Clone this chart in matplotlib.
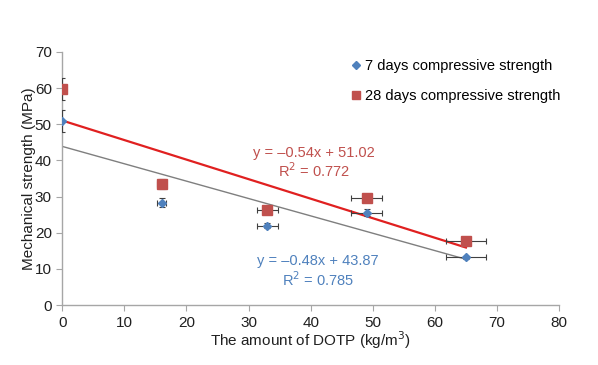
import matplotlib
matplotlib.use('Agg')
import matplotlib.pyplot as plt
import numpy as np

plt.rcParams['font.family'] = ['Liberation Sans', 'DejaVu Sans']

# DOTP amount (kg/m3)
dotp = [0, 16, 33, 49, 65]
dotp_err = [0.0, 0.7, 1.7, 2.5, 3.2]

# compressive strength (MPa)
s7 = [50.8, 28.3, 22.0, 25.5, 13.2]
s7_err = [3.0, 1.3, 0.8, 1.0, 0.5]
s28 = [59.8, 33.5, 26.3, 29.5, 17.8]
s28_err = [3.0, 1.3, 1.0, 1.0, 0.5]

# linear trendlines (slope, intercept)
fit7 = (-0.48, 43.87)
fit28 = (-0.54, 51.02)
fit_x_end = 65

blue = '#4f81bd'
red = '#c0504d'
gray_axis = '#a6a6a6'

fig = plt.figure(figsize=(5.98, 3.65), dpi=100)
ax = fig.add_axes([0.104, 0.164, 0.831, 0.694])

xs = np.array([0, fit_x_end])
ax.plot(xs, fit7[1] + fit7[0] * xs, color='#7f7f7f', lw=1.0, zorder=2)
ax.plot(xs, fit28[1] + fit28[0] * xs, color='#e02020', lw=1.6, zorder=2)

ax.errorbar(dotp, s7, xerr=dotp_err, yerr=s7_err, fmt='D', ms=4.5,
            color=blue, ecolor='#404040', elinewidth=0.8, capsize=2.5,
            capthick=0.8, zorder=3, label='7 days compressive strength')
ax.errorbar(dotp, s28, xerr=dotp_err, yerr=s28_err, fmt='s', ms=7,
            color=red, ecolor='#404040', elinewidth=0.8, capsize=2.5,
            capthick=0.8, zorder=4, label='28 days compressive strength')

ax.text(40.5, 39.3, 'y = \u20130.54x + 51.02\nR$^2$ = 0.772', color=red,
        ha='center', va='center', fontsize=10.5, linespacing=1.1)
ax.text(41.2, 9.3, 'y = \u20130.48x + 43.87\nR$^2$ = 0.785', color=blue,
        ha='center', va='center', fontsize=10.5, linespacing=1.1)

ax.set_xlim(0, 80)
ax.set_ylim(0, 70)
ax.set_xticks(range(0, 81, 10))
ax.set_yticks(range(0, 71, 10))
ax.set_xlabel('The amount of DOTP (kg/m$^3$)', fontsize=11, color='#202020',
              labelpad=0)
ax.set_ylabel('Mechanical strength (MPa)', fontsize=11, color='#202020',
              labelpad=-1)
ax.tick_params(labelsize=11, colors='#202020', length=4, width=0.8)
ax.tick_params(axis='both', color=gray_axis)
for side in ['top', 'right']:
    ax.spines[side].set_visible(False)
for side in ['left', 'bottom']:
    ax.spines[side].set_color(gray_axis)
    ax.spines[side].set_linewidth(1.0)

handles, labels = ax.get_legend_handles_labels()
leg = ax.legend([h[0] for h in handles], labels, loc='upper left',
                bbox_to_anchor=(0.55, 1.025), frameon=False, fontsize=10.5,
                handletextpad=0.1, handlelength=1.0, labelspacing=1.15,
                markerscale=0.9)

plt.savefig('out.png', dpi=100)
